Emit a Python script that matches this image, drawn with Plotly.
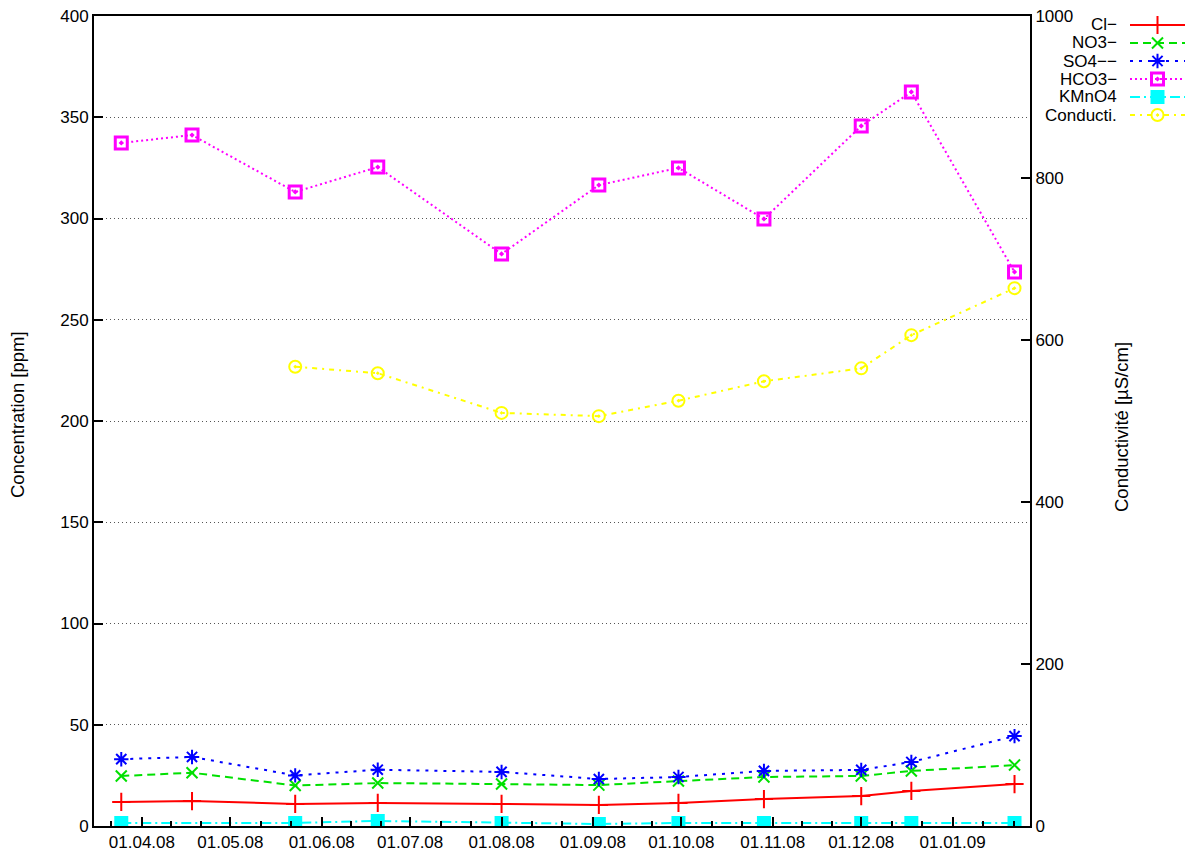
import pandas as pd
import plotly.graph_objects as go

# Sampling dates
dates = ["2008-03-25", "2008-04-18", "2008-05-23", "2008-06-20", "2008-08-01",
         "2008-09-03", "2008-09-30", "2008-10-29", "2008-12-01", "2008-12-18",
         "2009-01-22"]

# Concentrations [ppm]
cl = [11.9, 12.3, 10.9, 11.4, 10.9, 10.4, 11.4, 13.3, 14.8, 17.3, 20.7]
no3 = [24.7, 26.3, 20.0, 21.2, 20.7, 20.2, 22.2, 24.2, 24.7, 27.2, 30.1]
so4 = [33.0, 34.1, 25.0, 27.8, 26.7, 23.2, 24.2, 27.2, 27.7, 31.6, 44.4]
hco3 = [337.3, 341.2, 313.1, 325.4, 282.5, 316.5, 325.0, 299.8, 345.7, 362.5, 273.6]
kmno4 = [1.5, None, 1.5, 2.5, 1.5, 1.0, 1.5, 1.5, 1.5, 1.5, 1.5]

# Conductivity [µS/cm]
conductivity = [None, None, 567, 559, 510, 506, 525, 549, 565, 606, 664]

series_names = ["Cl−", "NO3−", "SO4−−", "HCO3−", "KMnO4", "Conducti."]

W, H = 1192, 856
PX_L, PX_R, PX_T, PX_B = 94, 1030, 16, 826
FONT = "Liberation Sans, Arial, sans-serif"
TICK_SIZE = 17
TITLE_SIZE = 18.5

styles = [
    dict(color="#ff0000", dash="solid", symbol="cross-thin-open", size=13, lw=2),
    dict(color="#00e000", dash="8px,5px", symbol="x-thin-open", size=11, lw=2),
    dict(color="#0000ff", dash="3px,6px", symbol="asterisk-open", size=12, lw=2),
    dict(color="#ff00ff", dash="2px,3px", symbol="square-open-dot", size=12, lw=3),
    dict(color="#00ffff", dash="10px,4px,2px,4px", symbol="square", size=12, lw=2),
    dict(color="#ffff00", dash="5px,5px,2px,5px", symbol="circle-open-dot", size=12, lw=2),
]

values = [cl, no3, so4, hco3, kmno4, conductivity]
axes_for = ["y", "y", "y", "y", "y", "y2"]

fig = go.Figure()

for name, vals, st, ya in zip(series_names, values, styles, axes_for):
    fig.add_trace(go.Scatter(
        x=pd.to_datetime(dates), y=vals, name=name, yaxis=ya, xaxis="x",
        mode="lines+markers", connectgaps=True,
        line=dict(color=st["color"], width=2, dash=st["dash"]),
        marker=dict(symbol=st["symbol"], size=st["size"], color=st["color"],
                    line=dict(color=st["color"], width=st["lw"])),
        showlegend=False,
    ))

# Key drawn on its own small axes, samples on the right of right-aligned labels
key_rows = [25, 43, 61, 79, 97, 115]
for name, st, ry in zip(series_names, styles, key_rows):
    fig.add_trace(go.Scatter(
        x=[0, 1], y=[ry, ry], xaxis="x3", yaxis="y3", mode="lines",
        line=dict(color=st["color"], width=2, dash=st["dash"]),
        showlegend=False, hoverinfo="skip",
    ))
    fig.add_trace(go.Scatter(
        x=[0.5], y=[ry], xaxis="x3", yaxis="y3", mode="markers",
        marker=dict(symbol=st["symbol"], size=st["size"], color=st["color"],
                    line=dict(color=st["color"], width=st["lw"])),
        showlegend=False, hoverinfo="skip",
    ))
    fig.add_annotation(
        text=name, xref="paper", yref="paper", x=1119 / W, y=1 - ry / H,
        xanchor="right", yanchor="middle", showarrow=False,
        font=dict(family=FONT, size=TICK_SIZE, color="black"),
    )

# Minor x ticks at thirds of each month
minor_ticks = []
for m in pd.date_range("2008-02-01", "2009-02-01", freq="MS"):
    nxt = m + pd.offsets.MonthBegin(1)
    span = nxt - m
    minor_ticks += [m + span / 3, m + 2 * span / 3]

axis_common = dict(showline=True, linecolor="black", linewidth=2,
                   ticks="inside", ticklen=9, tickwidth=1.5, tickcolor="black",
                   tickfont=dict(family=FONT, size=TICK_SIZE, color="black"),
                   zeroline=False, automargin=False)

fig.update_layout(
    width=W, height=H,
    margin=dict(l=0, r=0, t=0, b=0, pad=0, autoexpand=False),
    paper_bgcolor="white", plot_bgcolor="white",
    font=dict(family=FONT, size=TICK_SIZE, color="black"),
    showlegend=False,
    xaxis=dict(
        domain=[PX_L / W, PX_R / W], anchor="y", type="date",
        range=["2008-03-15 18:00", "2009-01-27 06:00"],
        tick0="2008-04-01", dtick="M1", tickformat="%d.%m.%y",
        showgrid=False, mirror=True,
        minor=dict(tickvals=minor_ticks, ticks="inside", ticklen=5,
                   tickwidth=1.5, tickcolor="black", showgrid=False),
        **axis_common,
    ),
    yaxis=dict(
        domain=[1 - PX_B / H, 1 - PX_T / H], anchor="x",
        range=[0, 400], dtick=50, showgrid=True, gridcolor="#555555",
        gridwidth=1, griddash="1px,3px", mirror=True,
        **axis_common,
    ),
    yaxis2=dict(
        overlaying="y", side="right", anchor="x",
        range=[0, 1000], dtick=200, showgrid=False,
        **axis_common,
    ),
    xaxis3=dict(domain=[1130 / W, 1185 / W], anchor="y3", range=[0, 1],
                visible=False, fixedrange=True),
    yaxis3=dict(domain=[1 - 140 / H, 1.0], anchor="x3", range=[140, 0],
                visible=False, fixedrange=True),
)

fig.add_annotation(text="Concentration [ppm]", xref="paper", yref="paper",
                   x=17 / W, y=1 - 415 / H, textangle=-90, showarrow=False,
                   xanchor="center", yanchor="middle",
                   font=dict(family=FONT, size=TITLE_SIZE, color="black"))
fig.add_annotation(text="Conductivité [µS/cm]", xref="paper", yref="paper",
                   x=1121 / W, y=1 - 427 / H, textangle=-90, showarrow=False,
                   xanchor="center", yanchor="middle",
                   font=dict(family=FONT, size=TITLE_SIZE, color="black"))

fig.write_html("out.html")
